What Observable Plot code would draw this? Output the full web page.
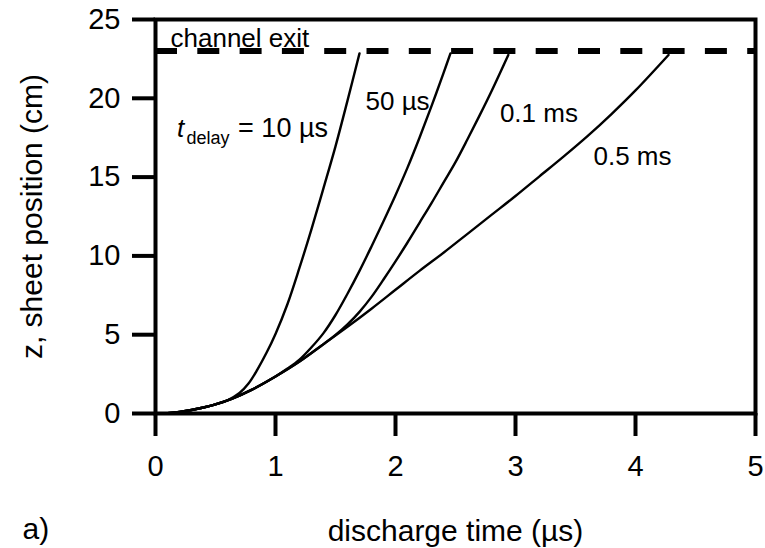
<!DOCTYPE html>
<html>
<head>
<meta charset="utf-8">
<script src="https://cdn.jsdelivr.net/npm/d3@7"></script>
<script src="https://cdn.jsdelivr.net/npm/@observablehq/plot@0.6"></script>
<style>
  html, body { margin: 0; padding: 0; background: #fff; }
</style>
</head>
<body>
<div id="chart"></div>
<script>
// ---- data ----
const delayNames = ["10 µs", "50 µs", "0.1 ms", "0.5 ms"];

const t10us = [0, 0.1, 0.2, 0.3, 0.4, 0.5, 0.6, 0.7, 0.775, 0.85, 0.925, 1.0, 1.1, 1.2, 1.3, 1.4, 1.5, 1.6, 1.70];
const z10us = [0, 0.02, 0.1, 0.22, 0.38, 0.58, 0.84, 1.3, 1.9, 2.8, 3.85, 5.05, 6.95, 9.25, 11.7, 14.3, 16.95, 19.85, 22.85];

const t50us = [0, 0.1, 0.2, 0.3, 0.4, 0.5, 0.64, 0.8, 1.0, 1.1, 1.2, 1.3, 1.4, 1.5, 1.6, 1.7, 1.8, 1.9, 2.0, 2.1, 2.2, 2.3, 2.4, 2.458];
const z50us = [0, 0.02, 0.1, 0.22, 0.38, 0.58, 0.95, 1.5, 2.35, 2.85, 3.42, 4.2, 5.1, 6.25, 7.6, 9.05, 10.6, 12.2, 13.85, 15.6, 17.5, 19.5, 21.6, 22.85];

const t01ms = [0, 0.1, 0.2, 0.3, 0.4, 0.5, 0.64, 0.8, 1.0, 1.2, 1.4, 1.5, 1.6, 1.7, 1.8, 1.9, 2.0, 2.1, 2.2, 2.3, 2.4, 2.5, 2.6, 2.7, 2.8, 2.94];
const z01ms = [0, 0.02, 0.1, 0.22, 0.38, 0.58, 0.95, 1.5, 2.35, 3.3, 4.4, 4.98, 5.65, 6.45, 7.4, 8.5, 9.65, 10.85, 12.1, 13.35, 14.65, 15.95, 17.4, 18.9, 20.45, 22.75];

const t05ms = [0, 0.1, 0.2, 0.3, 0.4, 0.5, 0.64, 0.8, 1.0, 1.2, 1.4, 1.6, 1.8, 2.0, 2.2, 2.4, 2.6, 2.8, 3.0, 3.2, 3.4, 3.6, 3.8, 4.0, 4.275];
const z05ms = [0, 0.02, 0.1, 0.22, 0.38, 0.58, 0.95, 1.5, 2.35, 3.3, 4.4, 5.5, 6.65, 7.85, 9.05, 10.2, 11.4, 12.6, 13.8, 15.05, 16.3, 17.6, 19.0, 20.5, 22.75];

const xTicks = [0, 1, 2, 3, 4, 5];
const yTicks = [0, 5, 10, 15, 20, 25];
const channelExitZ = 23;

const xTitle = "discharge time (µs)";
const yTitle = "z, sheet position (cm)";
const panelLabel = "a)";

// annotation anchors in data coordinates
const curveLabels = [
  {text: "50 µs", t: 1.75, z: 19.23},
  {text: "0.1 ms", t: 2.87, z: 18.48},
  {text: "0.5 ms", t: 3.65, z: 15.74}
];
const exitLabel = [{text: "channel exit", t: 0.125, z: 23.24}];
const delayLabel = [{t: 0.18, z: 17.53}];

// ---- build table ----
const seriesT = [t10us, t50us, t01ms, t05ms];
const seriesZ = [z10us, z50us, z01ms, z05ms];
const rows = [];
delayNames.forEach((name, i) => {
  seriesT[i].forEach((t, j) => rows.push({delay: name, t, z: seriesZ[i][j]}));
});

const font = "'Liberation Sans', Arial, Helvetica, sans-serif";

const chart = Plot.plot({
  width: 765,
  height: 548,
  marginLeft: 155,
  marginRight: 10,
  marginTop: 19,
  marginBottom: 135,
  style: {fontFamily: font, background: "white", color: "black", overflow: "visible"},
  x: {domain: [0, 5]},
  y: {domain: [0, 25]},
  marks: [
    Plot.line(rows, {x: "t", y: "z", z: "delay", stroke: "black", strokeWidth: 2.4, curve: "catmull-rom"}),
    Plot.ruleY([channelExitZ], {stroke: "black", strokeWidth: 6, strokeDasharray: "22,20.3"}),
    Plot.frame({stroke: "black", strokeWidth: 4}),
    Plot.axisX({ticks: xTicks, tickSize: 23, tickPadding: 19, strokeWidth: 4, fontSize: 29, label: null, tickFormat: d => String(d)}),
    Plot.axisY({ticks: yTicks, tickSize: 23, tickPadding: 12, strokeWidth: 4, fontSize: 29, label: null, tickFormat: d => String(d)}),
    Plot.text([xTitle], {text: d => d, frameAnchor: "bottom", dy: 127, lineAnchor: "bottom", fontSize: 30}),
    Plot.text([yTitle], {text: d => d, frameAnchor: "left", rotate: -90, dx: -114, lineAnchor: "bottom", textAnchor: "middle", fontSize: 30}),
    Plot.text([panelLabel], {text: d => d, frameAnchor: "bottom-left", dx: -133, dy: 125, textAnchor: "start", lineAnchor: "bottom", fontSize: 30}),
    Plot.text(exitLabel, {x: "t", y: "z", text: "text", textAnchor: "start", lineAnchor: "bottom", fontSize: 26}),
    Plot.text(curveLabels, {x: "t", y: "z", text: "text", textAnchor: "start", lineAnchor: "bottom", fontSize: 26}),
    Plot.text(delayLabel, {x: "t", y: "z", text: () => "t", textAnchor: "start", lineAnchor: "bottom", fontSize: 26, fontStyle: "italic"}),
    Plot.text(delayLabel, {x: "t", y: "z", text: () => "delay", dx: 9.3, dy: 6.3, textAnchor: "start", lineAnchor: "bottom", fontSize: 18}),
    Plot.text(delayLabel, {x: "t", y: "z", text: () => "= 10 µs", dx: 61, textAnchor: "start", lineAnchor: "bottom", fontSize: 27})
  ]
});

// thicken axis ticks and frame to match the reference's heavy strokes
d3.select(chart).selectAll('g[aria-label$="tick"]').attr("stroke-width", 4)
  .selectAll("path, line").attr("stroke-width", 4);
d3.select(chart).selectAll('[aria-label="frame"]').attr("stroke-width", 4)
  .selectAll("rect, path").attr("stroke-width", 4);

document.getElementById("chart").appendChild(chart);
</script>
</body>
</html>
